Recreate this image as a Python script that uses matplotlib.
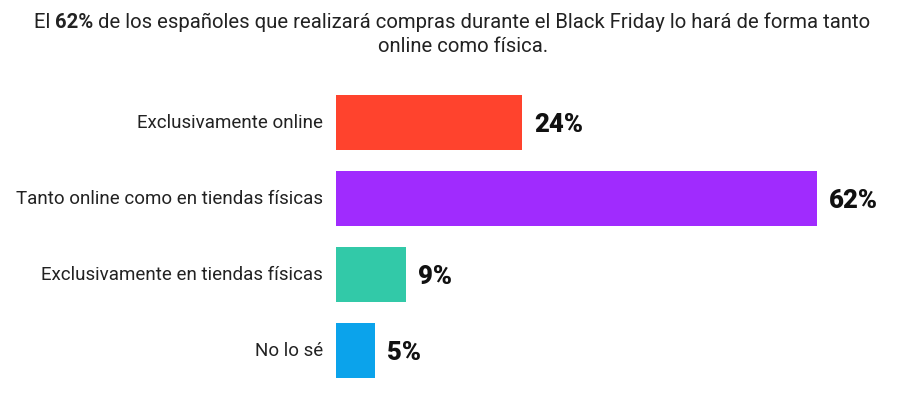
import matplotlib
matplotlib.use("Agg")
import matplotlib.pyplot as plt

categories = ["Exclusivamente online", "Tanto online como en tiendas físicas",
              "Exclusivamente en tiendas físicas", "No lo sé"]
values = [24, 62, 9, 5]
colors = ["#FF432D", "#A02BFE", "#32C9A8", "#0BA3EB"]

title_parts = [("El ", "normal"), ("62%", "bold"),
               (" de los españoles que realizará compras durante el Black Friday lo hará de forma tanto", "normal")]
title_line2 = "online como física."

plt.rcParams['font.family'] = ['Roboto', 'DejaVu Sans']

fig = plt.figure(figsize=(9.03, 3.97), dpi=100, facecolor='white')
ax = fig.add_axes([336 / 903, 0.0214, 558 / 903, 0.7657])

y = range(len(categories))
ax.barh(y, values, color=colors, height=0.72)
ax.set_xlim(0, 72)
ax.set_ylim(len(categories) - 0.5, -0.5)

for i, (cat, v) in enumerate(zip(categories, values)):
    ax.annotate(cat, xy=(0, i), xytext=(-9.5, 0), textcoords='offset points',
                ha='right', va='center', fontsize=13.5, color='#222222')
    ax.annotate(f"{v}%", xy=(v, i), xytext=(9, -2), textcoords='offset points',
                ha='left', va='center', fontsize=18.5, fontweight='black', color='#111111')

for s in ax.spines.values():
    s.set_visible(False)
ax.set_xticks([])
ax.set_yticks([])

# title line 1 with bold part, centered
renderer = fig.canvas.get_renderer()
texts = []
for txt, w in title_parts:
    t = fig.text(0, 0, txt, fontsize=14.6, fontweight=w, color='#222222', va='center', ha='left')
    texts.append(t)
widths = [t.get_window_extent(renderer).width for t in texts]
total = sum(widths)
x0 = 452 - total / 2
for t, wd in zip(texts, widths):
    t.set_position((x0 / 903, 1 - 22 / 397))
    x0 += wd
fig.text(463 / 903, 1 - 46 / 397, title_line2, fontsize=14.6, color='#222222', ha='center', va='center')

fig.savefig('out.png', dpi=100, facecolor='white')
